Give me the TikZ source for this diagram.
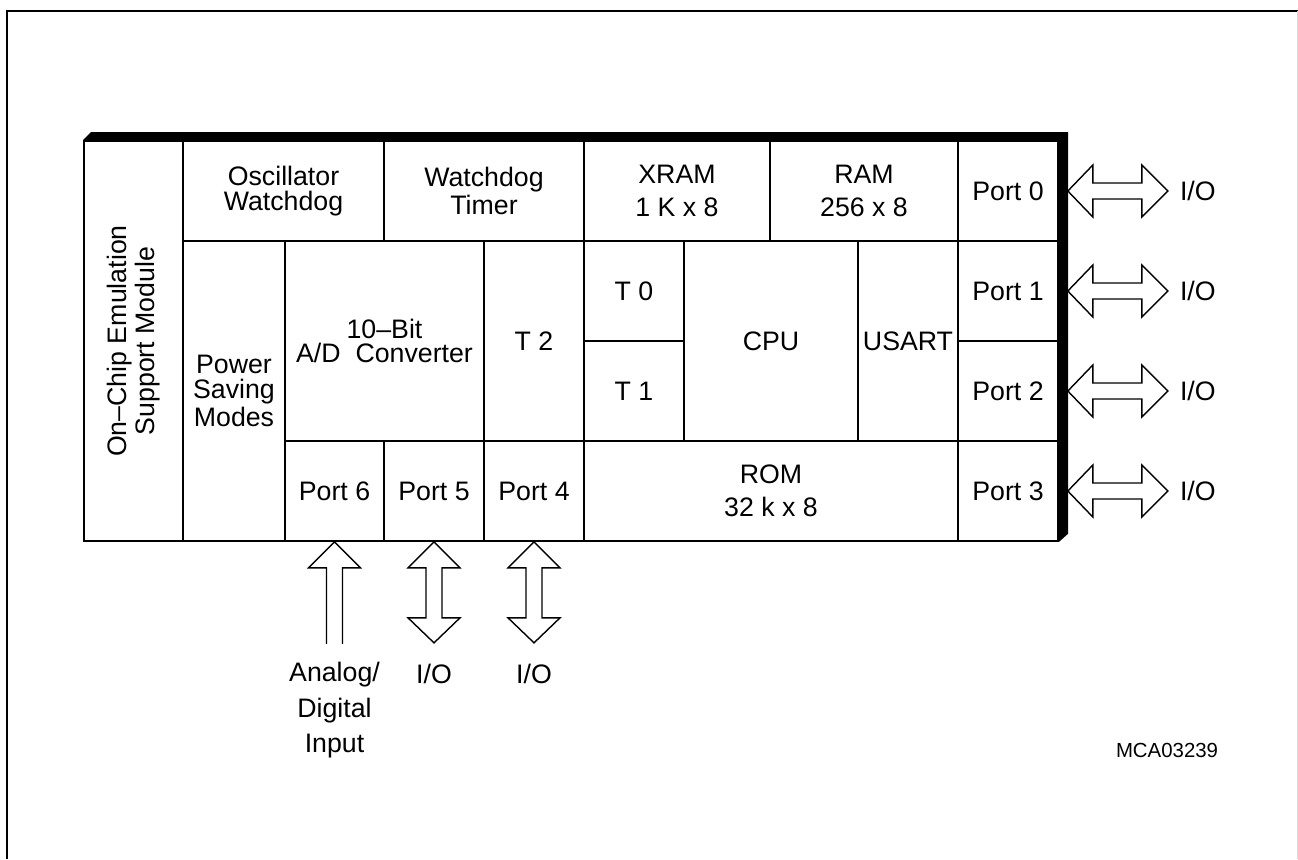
\documentclass[tikz,border=0pt]{standalone}
\usepackage{fontspec}
\setmainfont{Liberation Sans}
\usetikzlibrary{positioning,calc}

\tikzset{
  cell/.style={draw, line width=0.45pt, inner sep=0pt, align=center},
  wide/.style={font=\fontsize{7.6}{9.4}\selectfont},
  blockarrow/.style={draw, line width=0.4pt, line join=miter},
}

\begin{document}
\begin{tikzpicture}[x=0.01cm, y=-0.01cm, every node/.style={font=\fontsize{7.6}{6.9}\selectfont}]
  \useasboundingbox (0,0) rectangle (1298,859);
  \draw[line width=0.7pt] (7,859) -- (7,11) -- (1298,11);
  \draw[black!15, line width=0.3pt] (1297,11) -- (1297,859);

  % chip cells
  \node[cell, minimum width=0.99cm, minimum height=4cm] (ocds) at (133.5,341) {};
  \node[rotate=90, align=center] (ocdslbl) at (ocds.center) {On--Chip Emulation\\Support Module};
  \node[cell, minimum width=2.01cm, minimum height=1cm] (oscwd) at (283.5,191) {Oscillator\\Watchdog};
  \node[cell, minimum width=2cm, minimum height=1cm] (wdt) at (484,191) {Watchdog\\Timer};
  \node[cell, wide, minimum width=1.86cm, minimum height=1cm] (xram) at (677,191) {XRAM\\1 K x 8};
  \node[cell, wide, minimum width=1.88cm, minimum height=1cm] (ram) at (864,191) {RAM\\256 x 8};
  \node[cell, minimum width=1.02cm, minimum height=3cm] (pwr) at (234,391) {Power\\Saving\\Modes};
  \node[cell, minimum width=1.99cm, minimum height=2cm] (adc) at (384.5,341) {10--Bit\\A/D~~Converter};
  \node[cell, minimum width=1cm, minimum height=2cm] (t2) at (534,341) {T 2};
  \node[cell, minimum width=1cm, minimum height=1cm] (t0) at (634,291) {T 0};
  \node[cell, minimum width=1cm, minimum height=1cm] (t1) at (634,391) {T 1};
  \node[cell, minimum width=1.74cm, minimum height=2cm] (cpu) at (771,341) {CPU};
  \node[cell, minimum width=1cm, minimum height=2cm] (usart) at (908,341) {USART};
  \node[cell, minimum width=0.99cm, minimum height=1cm] (p6) at (334.5,491) {Port 6};
  \node[cell, minimum width=1cm, minimum height=1cm] (p5) at (434,491) {Port 5};
  \node[cell, minimum width=1cm, minimum height=1cm] (p4) at (534,491) {Port 4};
  \node[cell, wide, minimum width=3.74cm, minimum height=1cm] (rom) at (771,491) {ROM\\32 k x 8};
  \node[cell, minimum width=1cm, minimum height=1cm] (p0) at (1008,191) {Port 0};
  \node[cell, minimum width=1cm, minimum height=1cm] (p1) at (1008,291) {Port 1};
  \node[cell, minimum width=1cm, minimum height=1cm] (p2) at (1008,391) {Port 2};
  \node[cell, minimum width=1cm, minimum height=1cm] (p3) at (1008,491) {Port 3};

  % shadow edge
  \node[minimum width=9.74cm, minimum height=4cm, inner sep=0pt] (chip) at (571,341) {};
  \fill (chip.north west) -- ++(8,-8) -- ($(chip.north east)+(9,-8)$)
    -- ($(chip.south east)+(9,-8)$) -- (chip.south east) -- (chip.north east) -- cycle;

  % port arrows
  \foreach \p in {p0,p1,p2,p3}{
    \draw[blockarrow] ($(\p.east)+(9,0)$) -- ++(25,-26) -- ++(0,18) -- ++(49,0) -- ++(0,-18)
      -- ++(26,26) -- ++(-26,26) -- ++(0,-18) -- ++(-49,0) -- ++(0,18) -- cycle;
    \node (io\p) at ($(\p.east)+(139,0)$) {I/O};
  }
  \draw[blockarrow] ($(p6.south)+(-8,102)$) -- ++(0,-76) -- ++(-18,0) -- ++(26,-26)
    -- ++(26,26) -- ++(-18,0) -- ++(0,76);
  \foreach \p in {p5,p4}{
    \draw[blockarrow] (\p.south) -- ++(26,26) -- ++(-18,0) -- ++(0,50) -- ++(18,0)
      -- ++(-26,25) -- ++(-26,-25) -- ++(18,0) -- ++(0,-50) -- ++(-18,0) -- cycle;
    \node (io\p) at ($(\p.south)+(0,132)$) {I/O};
  }
  \node[align=center, anchor=north, inner sep=0pt, font=\fontsize{7.6}{10}\selectfont] (adin)
    at ($(p6.south)+(0,120)$) {Analog/\\Digital\\Input};

  \node[font=\fontsize{5.8}{7}\selectfont] (docid) at (1167,750) {MCA03239};
\end{tikzpicture}
\end{document}
